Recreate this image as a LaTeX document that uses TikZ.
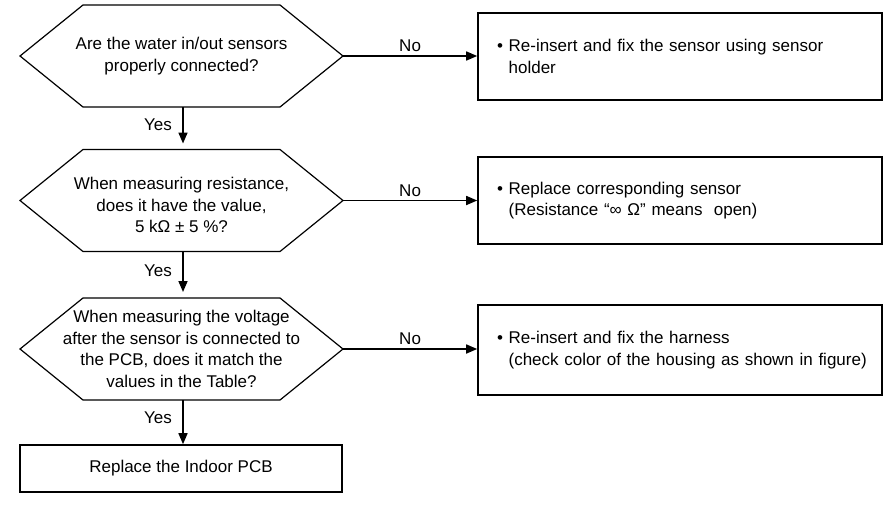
\documentclass[tikz,border=0pt]{standalone}
\usepackage{fontspec}
\setmainfont{Liberation Sans}
\usetikzlibrary{arrows.meta}

\tikzset{
  txt/.style={font=\fontsize{17}{21.5}\selectfont},
  question/.style={txt, shape=rectangle, inner sep=0pt, align=center},
  hexline/.style={draw=black, line width=1.2pt, line join=miter},
  action/.style={txt, shape=rectangle, draw=black, line width=1.6pt, minimum width=404pt, minimum height=87pt, inner xsep=19pt, text width=366pt, align=left},
  flow/.style={-{Triangle[length=11pt,width=9pt]}, black, line width=1.6pt},
  yeslabel/.style={txt, midway, left=7pt, yshift=4pt},
}

\begin{document}
\begin{tikzpicture}[x=1pt, y=-1pt]
    \useasboundingbox (0,0) rectangle (885,504);
    % decisions (hexagons drawn round the text nodes)
    \node[question, name=wired] at (181.5,56) {Are the water in/out sensors\\properly connected?};
    \node[question, name=resist] at (181.5,205) {When measuring resistance,\\does it have the value,\\5 kΩ ± 5 \%?};
    \node[question, name=volt] at (181.5,349) {When measuring the voltage\\after the sensor is connected to\\the PCB, does it match the\\values in the Table?};
    \foreach \q/\dy in {wired/0, resist/-4.5, volt/0} {
        \draw[hexline, shift={(\q.center)}] (-98.5,-51+\dy) -- (98.5,-51+\dy) -- (161.5,\dy) coordinate (\q-e) -- (98.5,51+\dy) -- (-98.5,51+\dy) -- (-161.5,\dy) -- cycle;
        \coordinate (\q-n) at ([yshift=51pt-\dy pt, xshift=1.5pt]\q.center);
        \coordinate (\q-s) at ([yshift=-51pt-\dy pt, xshift=1.5pt]\q.center);
    }
    % actions
    \node[action, name=fixsens] at (680,56.5) {• Re-insert and fix the sensor using sensor\\\hphantom{• }holder};
    \node[action, name=replsens] at (680,200.5) {• Replace corresponding sensor\\\hphantom{• }(Resistance “∞ Ω” means\ \ open)};
    \node[action, name=fixharn, minimum height=90pt] at (680,350) {• Re-insert and fix the harness\\\mbox{\hphantom{• }(check color of the housing as shown in figure)}};
    \node[action, name=pcb, minimum width=322pt, minimum height=47pt, text width=, align=center] at (181,468.5) {Replace the Indoor PCB};
    % connectors
    \draw[flow] (wired-e) -- node[txt, midway, above] {No} (wired-e -| fixsens.west);
    \draw[flow] (resist-e) -- node[txt, midway, above] {No} (resist-e -| replsens.west);
    \draw[flow] (volt-e) -- node[txt, midway, above] {No} (volt-e -| fixharn.west);
    \draw[flow, shorten >=6pt] (wired-s) -- node[yeslabel] {Yes} (resist-n);
    \draw[flow, shorten >=6pt] (resist-s) -- node[yeslabel] {Yes} (volt-n);
    \draw[flow] (volt-s) -- node[yeslabel] {Yes} (volt-s |- pcb.north);
\end{tikzpicture}
\end{document}
